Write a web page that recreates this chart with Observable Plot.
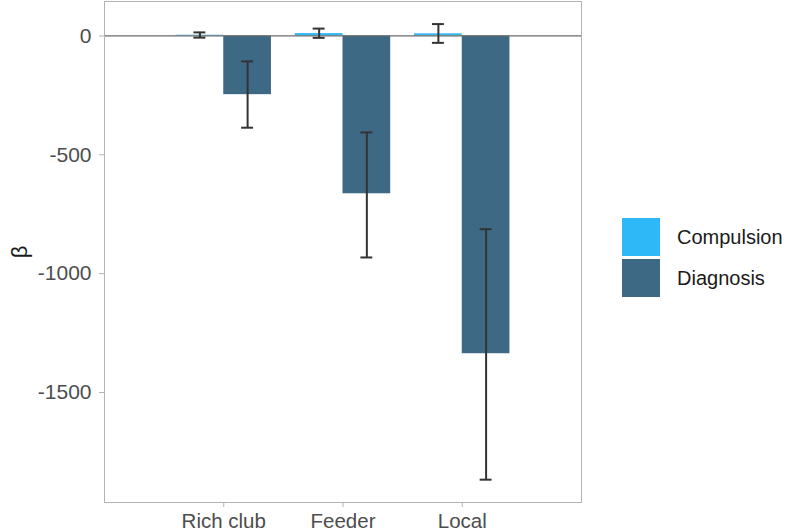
<!DOCTYPE html>
<html>
<head>
<meta charset="utf-8">
<script src="https://cdn.jsdelivr.net/npm/d3@7"></script>
<script src="https://cdn.jsdelivr.net/npm/@observablehq/plot@0.6"></script>
<style>
  html, body { margin: 0; padding: 0; background: #fff; }
  #wrap { position: relative; width: 787px; height: 532px; font-family: "Liberation Sans", Arial, sans-serif; }
  #legend { position: absolute; left: 622px; top: 218px; }
  .key { display: flex; align-items: center; height: 38px; margin-bottom: 3px; }
  .swatch { width: 38px; height: 38px; margin-right: 17px; }
  .lab { font-size: 20px; color: #1a1a1a; }
</style>
</head>
<body>
<div id="wrap"><div id="legend"></div></div>
<script>
// ---- data ----
const categories = ["Rich club", "Feeder", "Local"];
const series = ["Compulsion", "Diagnosis"];
const seriesColors = ["#2fb8f7", "#3e6985"];
const compulsionBeta = [3, 10, 9];
const compulsionLo = [-7, -8, -29];
const compulsionHi = [15, 31, 50];
const diagnosisBeta = [-247, -664, -1337];
const diagnosisLo = [-386, -932, -1867];
const diagnosisHi = [-107, -406, -813];
const yTicks = [0, -500, -1000, -1500];

// ---- build table ----
const betas = [compulsionBeta, diagnosisBeta];
const los = [compulsionLo, diagnosisLo];
const his = [compulsionHi, diagnosisHi];
const rows = [];
categories.forEach((c, i) => {
  series.forEach((s, j) => {
    rows.push({category: c, index: i, series: s, dodge: j, beta: betas[j][i], lo: los[j][i], hi: his[j][i]});
  });
});

const barWidth = 0.4;   // dodge width of each bar (ggplot units)
const capWidth = 0.1;   // error bar cap width
const center = d => d.index + (d.dodge - 0.5) * barWidth;

const chart = Plot.plot({
  width: 787,
  height: 532,
  marginLeft: 104,
  marginRight: 206,
  marginTop: 1,
  marginBottom: 30,
  style: {fontFamily: "'Liberation Sans', Arial, sans-serif", background: "#fff", overflow: "visible"},
  x: {domain: [-1, categories.length]},
  y: {domain: [-1963, 145]},
  color: {domain: series, range: seriesColors},
  marks: [
    Plot.rect(rows, {
      x1: d => center(d) - barWidth / 2,
      x2: d => center(d) + barWidth / 2,
      y1: () => 0,
      y2: "beta",
      fill: "series"
    }),
    Plot.ruleY([0], {stroke: "#6a6a6a", strokeWidth: 1.2}),
    Plot.ruleX(rows, {x: center, y1: "lo", y2: "hi", stroke: "#333", strokeWidth: 2}),
    Plot.ruleY(rows, {y: "lo", x1: d => center(d) - capWidth / 2, x2: d => center(d) + capWidth / 2, stroke: "#333", strokeWidth: 2}),
    Plot.ruleY(rows, {y: "hi", x1: d => center(d) - capWidth / 2, x2: d => center(d) + capWidth / 2, stroke: "#333", strokeWidth: 2}),
    Plot.frame({stroke: "#b3b3b3"}),
    Plot.axisY({
      ticks: yTicks, tickFormat: d => String(d),
      tickSize: 5, tickPadding: 8, fontSize: 21,
      stroke: "#b3b3b3", fill: "#4d4d4d", label: null
    }),
    Plot.axisY({
      ticks: [], tickSize: 0,
      fill: "#1a1a1a", fontSize: 22,
      label: "β", labelAnchor: "center", labelArrow: "none", labelOffset: 93
    }),
    Plot.axisX({
      ticks: categories.map((c, i) => i), tickFormat: i => categories[i],
      tickSize: 5, tickPadding: 6, fontSize: 20.5,
      stroke: "#b3b3b3", fill: "#4d4d4d", label: null
    })
  ]
});

const wrap = document.getElementById("wrap");
wrap.insertBefore(chart, wrap.firstChild);

const legend = document.getElementById("legend");
series.forEach((s, j) => {
  const row = document.createElement("div");
  row.className = "key";
  const sw = document.createElement("div");
  sw.className = "swatch";
  sw.style.background = seriesColors[j];
  const lab = document.createElement("span");
  lab.className = "lab";
  lab.textContent = s;
  row.appendChild(sw);
  row.appendChild(lab);
  legend.appendChild(row);
});
</script>
</body>
</html>
